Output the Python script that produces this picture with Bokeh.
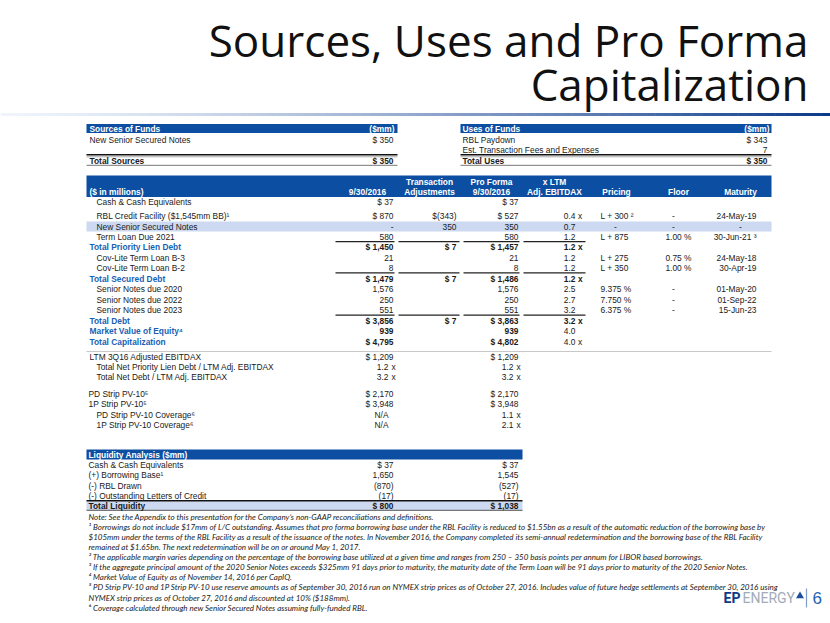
from bokeh.plotting import figure
from bokeh.models import ColumnDataSource, Range1d
from bokeh.embed import file_html
from bokeh.resources import INLINE

# ---------------- data ----------------
title_lines = ["Sources, Uses and Pro Forma", "Capitalization"]

sources_header = ["Sources of Funds", "($mm)"]
sources_labels = ["New Senior Secured Notes"]
sources_values = ["$ 350"]
sources_total = ["Total Sources", "$ 350"]

uses_header = ["Uses of Funds", "($mm)"]
uses_labels = ["RBL Paydown", "Est. Transaction Fees and Expenses"]
uses_values = ["$ 343", "7"]
uses_total = ["Total Uses", "$ 350"]

cap_head_top = ["", "", "Transaction", "Pro Forma", "x LTM", "", "", ""]
cap_head_bot = ["($ in millions)", "9/30/2016", "Adjustments", "9/30/2016", "Adj. EBITDAX", "Pricing", "Floor", "Maturity"]

cap_labels = ["Cash & Cash Equivalents", "RBL Credit Facility ($1,545mm BB)\u00b9", "New Senior Secured Notes",
              "Term Loan Due 2021", "Total Priority Lien Debt", "Cov-Lite Term Loan B-3", "Cov-Lite Term Loan B-2",
              "Total Secured Debt", "Senior Notes due 2020", "Senior Notes due 2022", "Senior Notes due 2023",
              "Total Debt", "Market Value of Equity\u2074", "Total Capitalization"]
cap_is_total = [0, 0, 0, 0, 1, 0, 0, 1, 0, 0, 0, 1, 1, 1]
cap_actual = ["$ 37", "$ 870", "-", "580", "$ 1,450", "21", "8", "$ 1,479", "1,576", "250", "551", "$ 3,856", "939", "$ 4,795"]
cap_adjust = ["", "$(343)", "350", "", "$ 7", "", "", "$ 7", "", "", "", "$ 7", "", ""]
cap_proforma = ["$ 37", "$ 527", "350", "580", "$ 1,457", "21", "8", "$ 1,486", "1,576", "250", "551", "$ 3,863", "939", "$ 4,802"]
cap_ratio = ["", "0.4", "0.7", "1.2", "1.2", "1.2", "1.2", "1.2", "2.5", "2.7", "3.2", "3.2", "4.0", "4.0"]
cap_ratio_x = [0, 1, 0, 0, 1, 0, 0, 1, 0, 0, 0, 1, 0, 1]
cap_ratio_bold = [0, 0, 0, 0, 1, 0, 0, 1, 0, 0, 0, 1, 0, 0]
cap_pricing = ["", "L + 300 \u00b2", "-", "L + 875", "", "L + 275", "L + 350", "", "9.375 %", "7.750 %", "6.375 %", "", "", ""]
cap_floor = ["", "-", "-", "1.00 %", "", "0.75 %", "1.00 %", "", "-", "-", "-", "", "", ""]
cap_maturity = ["", "24-May-19", "-", "30-Jun-21 \u00b3", "", "24-May-18", "30-Apr-19", "", "01-May-20", "01-Sep-22", "15-Jun-23", "", "", ""]

metric_labels = ["LTM 3Q16 Adjusted EBITDAX", "Total Net Priority Lien Debt / LTM Adj. EBITDAX", "Total Net Debt / LTM Adj. EBITDAX"]
metric_actual = ["$ 1,209", "1.2 x", "3.2 x"]
metric_proforma = ["$ 1,209", "1.2 x", "3.2 x"]

pv_labels = ["PD Strip PV-10\u2075", "1P Strip PV-10\u2075", "PD Strip PV-10 Coverage\u2076", "1P Strip PV-10 Coverage\u2076"]
pv_actual = ["$ 2,170", "$ 3,948", "N/A", "N/A"]
pv_proforma = ["$ 2,170", "$ 3,948", "1.1 x", "2.1 x"]

liq_header = "Liquidity Analysis ($mm)"
liq_labels = ["Cash & Cash Equivalents", "(+) Borrowing Base\u00b9", "(-) RBL Drawn", "(-) Outstanding Letters of Credit", "Total Liquidity"]
liq_actual = ["$ 37", "1,650", "(870)", "(17)", "$ 800"]
liq_proforma = ["$ 37", "1,545", "(527)", "(17)", "$ 1,038"]

footnotes = [
    "Note: See the Appendix to this presentation for the Company\u2019s non-GAAP reconciliations and definitions.",
    "\u00b9 Borrowings do not include $17mm of L/C outstanding. Assumes that pro forma borrowing base under the RBL Facility is reduced to $1.55bn as a result of the automatic reduction of the borrowing base by",
    "$105mm under the terms of the RBL Facility as a result of the issuance of the notes. In November 2016, the Company completed its semi-annual redetermination and the borrowing base of the RBL Facility",
    "remained at $1.65bn. The next redetermination will be on or around May 1, 2017.",
    "\u00b2 The applicable margin varies depending on the percentage of the borrowing base utilized at a given time and ranges from 250 \u2013 350 basis points per annum for LIBOR based borrowings.",
    "\u00b3 If the aggregate principal amount of the 2020 Senior Notes exceeds $325mm 91 days prior to maturity, the maturity date of the Term Loan will be 91 days prior to maturity of the 2020 Senior Notes.",
    "\u2074 Market Value of Equity as of November 14, 2016 per CapIQ.",
    "\u2075 PD Strip PV-10 and 1P Strip PV-10 use reserve amounts as of September 30, 2016 run on NYMEX strip prices as of October 27, 2016. Includes value of future hedge settlements at September 30, 2016 using",
    "NYMEX strip prices as of October 27, 2016 and discounted at 10% ($188mm).",
    "\u2076 Coverage calculated through new Senior Secured Notes assuming fully-funded RBL.",
]
logo_words = ["EP", "ENERGY"]
page_number = "6"

# ---------------- styles / layout ----------------
BLUE = "#0B4EA2"
TBLUE = "#1A5FB4"
BAND = "#CCD9F1"
TXT = "#1a1a1a"
TF = "Liberation Sans"
FS = "8.4px"

p = figure(width=830, height=623, x_range=Range1d(0, 830), y_range=Range1d(623, 0),
           output_backend="svg", toolbar_location=None, min_border=0)
p.axis.visible = False
p.grid.visible = False
p.outline_line_color = None
p.background_fill_color = "white"
p.border_fill_color = "white"

T = dict(x=[], y=[], text=[], align=[], size=[], color=[], style=[], font=[], base=[])


def t(x, y, s, align="left", size=FS, color=TXT, style="normal", font=TF, base="middle"):
    if s == "":
        return
    T["x"].append(x); T["y"].append(y); T["text"].append(s); T["align"].append(align)
    T["size"].append(size); T["color"].append(color); T["style"].append(style)
    T["font"].append(font); T["base"].append(base)


Q = dict(l=[], r=[], t=[], b=[], c=[])


def q(l, r, top, bot, c):
    Q["l"].append(l); Q["r"].append(r); Q["t"].append(top); Q["b"].append(bot); Q["c"].append(c)


S = dict(x0=[], x1=[], y0=[], y1=[], c=[], w=[])


def seg(x0, x1, y0, y1, c="#333333", w=1.2):
    S["x0"].append(x0); S["x1"].append(x1); S["y0"].append(y0); S["y1"].append(y1)
    S["c"].append(c); S["w"].append(w)


# title
t(808, 39, title_lines[0], "right", "44px", "#111111", "normal", "Open Sans", "middle")
t(808, 83, title_lines[1], "right", "44px", "#111111", "normal", "Open Sans", "middle")

# gradient rule under title
n = 90
c0 = (240, 245, 252)
c1 = (12, 58, 138)
for i in range(n):
    f = (i / (n - 1)) ** 1.3
    col = "#%02x%02x%02x" % tuple(int(c0[k] + (c1[k] - c0[k]) * f) for k in range(3))
    xa = 830 * i / n
    xb = 830 * (i + 1) / n
    seg(xa, xb + 0.5, 114, 114, col, 3)

# sources table
q(86, 397, 123.5, 132.5, BLUE)
t(89, 128.2, sources_header[0], "left", FS, "white", "bold")
t(394, 128.2, sources_header[1], "right", FS, "white", "bold")
for i, (lab, val) in enumerate(zip(sources_labels, sources_values)):
    t(89, 139 + 10.2 * i, lab)
    t(393, 139 + 10.2 * i, val, "right")
seg(86, 397, 154.3, 154.3, "#111111", 1.6)
seg(86, 397, 156.3, 156.3, "#aaaaaa", 1)
t(89, 160, sources_total[0], "left", FS, TXT, "bold")
t(393, 160, sources_total[1], "right", FS, TXT, "bold")
seg(86, 397, 164.8, 164.8, "#777777", 1)

# uses table
q(460, 771, 123.5, 132.5, BLUE)
t(462, 128.2, uses_header[0], "left", FS, "white", "bold")
t(769, 128.2, uses_header[1], "right", FS, "white", "bold")
for i, (lab, val) in enumerate(zip(uses_labels, uses_values)):
    t(462, 139 + 10.2 * i, lab)
    t(767, 139 + 10.2 * i, val, "right")
seg(460, 771, 154.3, 154.3, "#111111", 1.6)
seg(460, 771, 156.3, 156.3, "#aaaaaa", 1)
t(462, 160, uses_total[0], "left", FS, TXT, "bold")
t(767, 160, uses_total[1], "right", FS, TXT, "bold")
seg(460, 771, 164.8, 164.8, "#777777", 1)

# capitalization table header
q(86, 771, 175, 196.5, BLUE)
head_x = [89, 367, 429, 491, 554, 616, 678, 740]
for i in range(len(cap_head_bot)):
    al = "left" if i == 0 else "center"
    t(head_x[i], 181.3, cap_head_top[i], al, FS, "white", "bold")
    t(head_x[i], 191.3, cap_head_bot[i], al, FS, "white", "bold")

cap_y = [201.5, 215.5, 226, 236.3, 246.7, 257.2, 267.6, 278, 288.6, 299.1, 309.5, 320.2, 330.6, 341]
q(86, 771, 221, 231, BAND)
for i, lab in enumerate(cap_labels):
    y = cap_y[i]
    tot = cap_is_total[i]
    if tot:
        t(89, y, lab, "left", FS, TBLUE, "bold")
    else:
        t(96, y, lab)
    st = "bold" if tot else "normal"
    t(393, y, cap_actual[i], "right", FS, TXT, st)
    t(456, y, cap_adjust[i], "right", FS, TXT, st)
    t(518, y, cap_proforma[i], "right", FS, TXT, st)
    rst = "bold" if cap_ratio_bold[i] else "normal"
    t(575, y, cap_ratio[i], "right", FS, TXT, rst)
    if cap_ratio_x[i]:
        t(577.5, y, "x", "left", FS, TXT, rst)
    if cap_pricing[i] == "-":
        t(615, y, "-", "center")
    else:
        t(600, y, cap_pricing[i])
    if cap_floor[i] == "-":
        t(673, y, "-", "center")
    else:
        t(691, y, cap_floor[i], "right")
    if cap_maturity[i] == "-":
        t(740, y, "-", "center")
    else:
        t(756, y, cap_maturity[i], "right")
    if tot and i != 12 and i != 13:
        yy = y - 5.6
        for a, b in [(335, 394), (398, 459), (463, 519), (523, 585)]:
            seg(a, b, yy, yy, "#222222", 1.4)


def num_with_x(xr, y, s, style="normal"):
    if s.endswith(" x"):
        t(xr - 5, y, s[:-2], "right", FS, TXT, style)
        t(xr - 2, y, "x", "left", FS, TXT, style)
    elif s == "N/A":
        t(xr - 5, y, s, "right", FS, TXT, style)
    else:
        t(xr, y, s, "right", FS, TXT, style)


seg(86, 771, 351, 351, "#c8c8c8", 1.2)
metric_y = [356.2, 366.5, 376.8]
for i, lab in enumerate(metric_labels):
    t(89 if i == 0 else 96, metric_y[i], lab)
    num_with_x(393, metric_y[i], metric_actual[i])
    num_with_x(518, metric_y[i], metric_proforma[i])

pv_y = [393.3, 403.8, 414.2, 424.5]
for i, lab in enumerate(pv_labels):
    t(88 if i < 2 else 96, pv_y[i], lab)
    num_with_x(393, pv_y[i], pv_actual[i])
    num_with_x(518, pv_y[i], pv_proforma[i])

# liquidity
q(86, 522, 449, 459, BLUE)
t(88, 454.2, liq_header, "left", FS, "white", "bold")
liq_y = [464.2, 474.6, 485, 495.3, 505.3]
q(86, 522, 500.8, 509.6, BAND)
seg(86, 522, 500.3, 500.3, "#111111", 1.5)
seg(86, 522, 509.8, 509.8, "#555555", 1)
for i, lab in enumerate(liq_labels):
    st = "bold" if i == len(liq_labels) - 1 else "normal"
    t(88, liq_y[i], lab, "left", FS, TXT, st)
    t(393, liq_y[i], liq_actual[i], "right", FS, TXT, st)
    t(518, liq_y[i], liq_proforma[i], "right", FS, TXT, st)

# footnotes
for i, fn in enumerate(footnotes):
    t(88, 516.2 + 10.1 * i, fn, "left", "8px", "#222222", "italic", "Lato")

# logo and page number
t(723, 597, logo_words[0], "left", "14px", "#0E3A82", "bold", "Roboto", "middle")
t(742, 597, logo_words[1], "left", "14px", "#A3ABB8", "normal", "Roboto", "middle")
t(812, 597, page_number, "left", "17px", "#2463B5", "normal", "Liberation Sans", "middle")
seg(806, 806, 588, 607, "#7F9CC9", 1.2)

src_q = ColumnDataSource(Q)
p.quad(left="l", right="r", top="t", bottom="b", fill_color="c", line_color=None, source=src_q)
src_s = ColumnDataSource(S)
p.segment(x0="x0", x1="x1", y0="y0", y1="y1", line_color="c", line_width="w", source=src_s)
p.scatter([799.5], [595.5], marker="triangle", size=8, fill_color="#1B4F9C", line_color=None)
src_t = ColumnDataSource(T)
p.text(x="x", y="y", text="text", text_align="align", text_font_size="size", text_color="color",
       text_font_style="style", text_font="font", text_baseline="base", source=src_t)

open("out.html", "w").write(file_html(p, INLINE))
